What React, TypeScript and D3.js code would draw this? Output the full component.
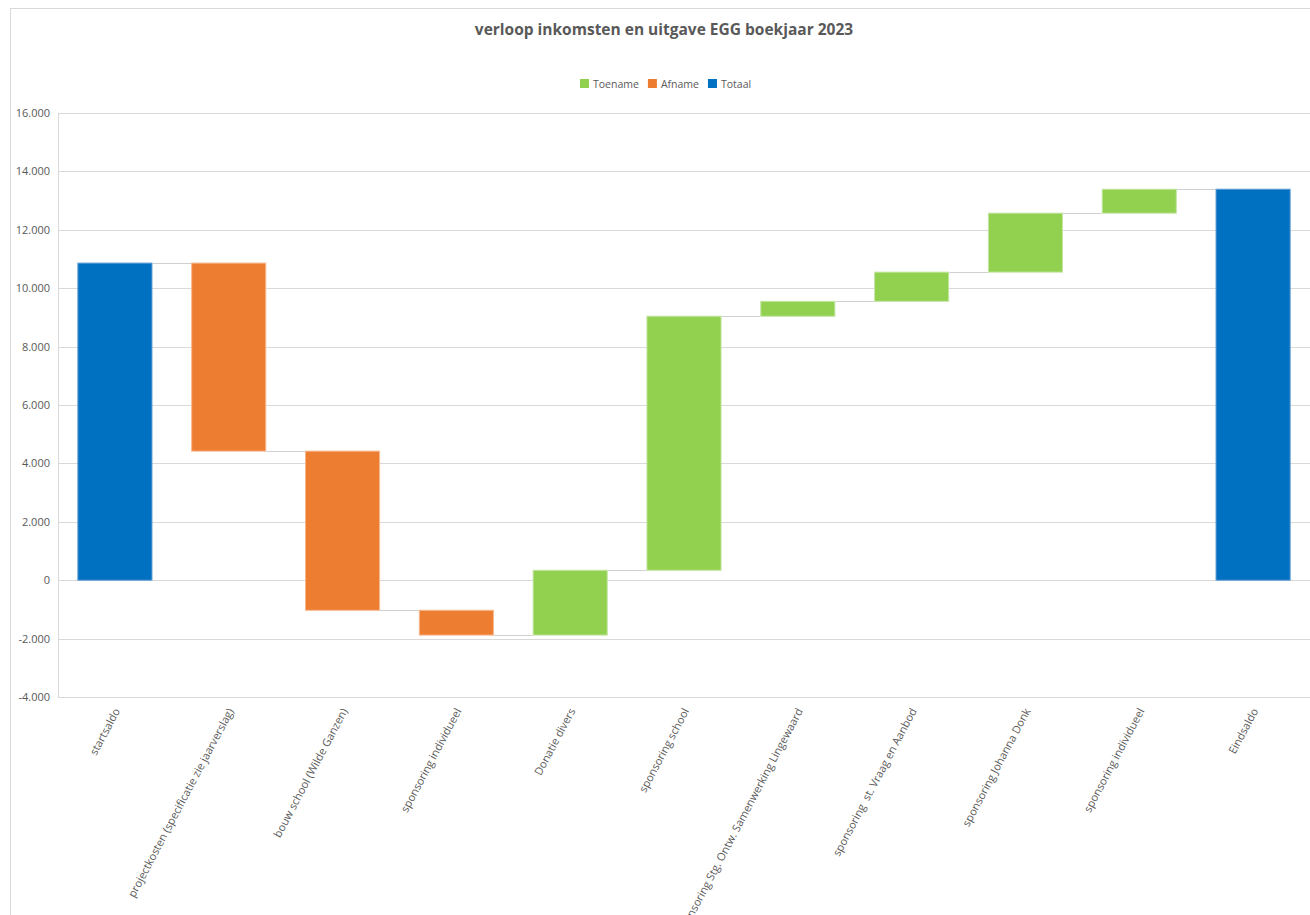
import { useEffect, useRef } from 'react';
import * as d3 from 'd3';

// categories and changes
const categories = [
    'startsaldo',
    'projectkosten (specificatie zie jaarverslag)',
    'bouw school (Wilde Ganzen)',
    'sponsoring individueel',
    'Donatie divers',
    'sponsoring school',
    'sponsoring Stg. Ontw. Samenwerking Lingewaard',
    'sponsoring  st. Vraag en Aanbod',
    'sponsoring Johanna Donk',
    'sponsoring individueel',
    'Eindsaldo',
];
const changes = [10860, -6440, -5450, -850, 2220, 8700, 510, 1000, 2020, 820, 13390];
const kinds = ['Totaal', 'Afname', 'Afname', 'Afname', 'Toename', 'Toename', 'Toename', 'Toename', 'Toename', 'Toename', 'Totaal'];
const yTicks = [-4000, -2000, 0, 2000, 4000, 6000, 8000, 10000, 12000, 14000, 16000];
const legendItems = ['Toename', 'Afname', 'Totaal'];

const COLORS: Record<string, string> = {
    Toename: '#92D050',
    Afname: '#ED7D31',
    Totaal: '#0070C0',
};
const STROKES: Record<string, string> = {
    Toename: '#c4e6a3',
    Afname: '#f6b98f',
    Totaal: '#5f9fd6',
};

const W = 1310;
const H = 915;
const FONT = '"Open Sans", "Segoe UI", sans-serif';

// Dutch number format: dot as thousands separator
const nl = d3.formatLocale({ decimal: ',', thousands: '.', grouping: [3], currency: ['€', ''], minus: '-' });
const fmt = nl.format(',');

export default function App() {
    const svgRef = useRef<SVGSVGElement>(null);

    useEffect(() => {
        const svg = d3.select(svgRef.current);
        svg.selectAll('*').remove();

        const left = 58, right = 1310, top = 113, bottom = 697;

        // build waterfall segments
        let running = 0;
        const segs = categories.map((c, i) => {
            let start, end;
            if (kinds[i] === 'Totaal') {
                start = 0; end = changes[i];
            } else {
                start = running; end = running + changes[i];
            }
            running = end;
            return { i, label: c, kind: kinds[i], start, end };
        });

        const x = d3.scaleBand<number>()
            .domain(categories.map((_, i) => i))
            .range([left, right])
            .paddingInner(0.34)
            .paddingOuter(0.17);

        const y = d3.scaleLinear().domain([-4000, 16000]).range([bottom, top]);

        // outer chart frame
        svg.append('rect')
            .attr('x', 10.5).attr('y', 8.5)
            .attr('width', W).attr('height', H)
            .attr('fill', '#fff')
            .attr('stroke', '#d9d9d9');

        // title
        svg.append('text')
            .attr('x', 664).attr('y', 35)
            .attr('text-anchor', 'middle')
            .style('font-family', FONT)
            .style('font-size', '15.5px')
            .style('font-weight', 'bold')
            .style('fill', '#595959')
            .text('verloop inkomsten en uitgave EGG boekjaar 2023');

        // legend
        const lg = svg.append('g').attr('transform', 'translate(580,79)');
        let lx = 0;
        legendItems.forEach(k => {
            lg.append('rect').attr('x', lx).attr('y', 0).attr('width', 9).attr('height', 9).attr('fill', COLORS[k]);
            const t = lg.append('text')
                .attr('x', lx + 13).attr('y', 9)
                .style('font-family', FONT)
                .style('font-size', '10.5px')
                .style('fill', '#595959')
                .text(k);
            const tw = (t.node() as SVGTextElement).getComputedTextLength();
            lx += 13 + tw + 9;
        });

        // gridlines + y labels
        const grid = svg.append('g');
        yTicks.forEach(v => {
            grid.append('line')
                .attr('x1', left).attr('x2', right)
                .attr('y1', Math.round(y(v)) + 0.5).attr('y2', Math.round(y(v)) + 0.5)
                .attr('stroke', '#d9d9d9');
            grid.append('text')
                .attr('x', 50).attr('y', y(v) + 4)
                .attr('text-anchor', 'end')
                .style('font-family', FONT)
                .style('font-size', '11px')
                .style('fill', '#595959')
                .text(fmt(v));
        });
        svg.append('line')
            .attr('x1', left + 0.5).attr('x2', left + 0.5)
            .attr('y1', top).attr('y2', bottom)
            .attr('stroke', '#d9d9d9');

        // connector lines
        segs.slice(0, -1).forEach((s, i) => {
            const nx = segs[i + 1];
            svg.append('line')
                .attr('x1', x(s.i)! + x.bandwidth()).attr('x2', x(nx.i)!)
                .attr('y1', Math.round(y(s.end)) + 0.5).attr('y2', Math.round(y(s.end)) + 0.5)
                .attr('stroke', '#d0d0d0');
        });

        // bars
        svg.append('g').selectAll('rect')
            .data(segs)
            .enter()
            .append('rect')
            .attr('x', d => x(d.i)! + 0.5)
            .attr('width', x.bandwidth() - 1)
            .attr('y', d => y(Math.max(d.start, d.end)))
            .attr('height', d => Math.abs(y(d.start) - y(d.end)))
            .attr('fill', d => COLORS[d.kind])
            .attr('stroke', d => STROKES[d.kind])
            .attr('stroke-width', 1);

        // category labels
        svg.append('g').selectAll('text')
            .data(segs)
            .enter()
            .append('text')
            .attr('transform', d => `translate(${x(d.i)! + x.bandwidth() / 2 + 2},${bottom + 12}) rotate(-62)`)
            .attr('text-anchor', 'end')
            .attr('dy', '0.35em')
            .style('font-family', FONT)
            .style('font-size', '11px')
            .style('fill', '#595959')
            .style('white-space', 'pre')
            .text(d => d.label);
    }, []);

    return (
        <svg
            ref={svgRef}
            width={W}
            height={H}
            style={{ position: 'absolute', left: 0, top: 0, background: '#fff' }}
        />
    );
}
